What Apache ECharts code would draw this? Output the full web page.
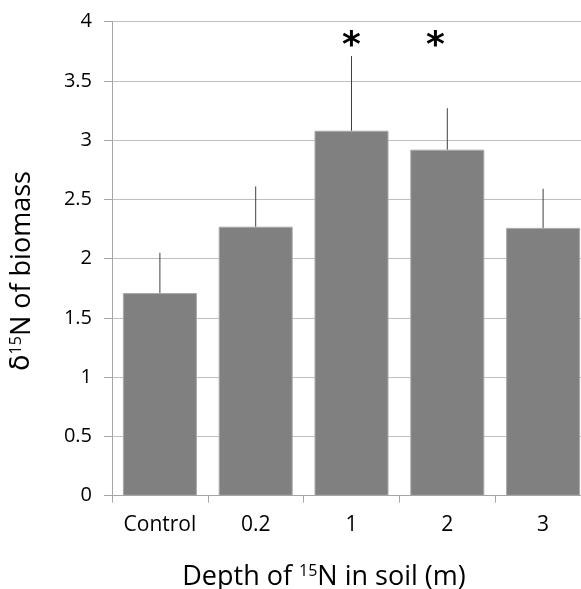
<!DOCTYPE html>
<html>
<head>
<meta charset="utf-8">
<script src="https://cdn.jsdelivr.net/npm/echarts@6/dist/echarts.min.js"></script>
<style>
  html, body { margin: 0; padding: 0; background: #fff; overflow: hidden; }
  /* the original plot runs a little past the right edge of the picture */
  #chart { width: 591px; height: 589px; }
</style>
</head>
<body>
<div id="chart"></div>
<script>
var categories = ['Control', '0.2', '1', '2', '3'];
var means = [1.71, 2.27, 3.08, 2.92, 2.26];
var errTops = [2.05, 2.61, 3.71, 3.27, 2.59];
var stars = ['', '', '*', '*', ''];
var starLevel = 3.87;

var font = '"Open Sans", "Noto Sans", sans-serif';
var myChart = echarts.init(document.getElementById('chart'));

var option = {
  animation: false,
  grid: { left: 112, top: 21.7, right: 0, bottom: 93.3 },
  graphic: [{
    type: 'text',
    x: 22, y: 271,
    rotation: Math.PI / 2,
    style: {
      text: '{d|δ}{s|15}{a|N of biomass}',
      align: 'center',
      verticalAlign: 'middle',
      fill: '#000',
      rich: {
        a: { fontSize: 27, fontFamily: font, fill: '#000' },
        d: { fontSize: 27, fontFamily: '"DejaVu Sans", sans-serif', fill: '#000' },
        s: { fontSize: 16, fontFamily: font, fill: '#000', verticalAlign: 'top', padding: [0, 0, 11, 0] }
      }
    }
  }, {
    type: 'text',
    x: 324, y: 577,
    style: {
      text: '{a|Depth of }{s|15}{a|N in soil (m)}',
      align: 'center',
      verticalAlign: 'middle',
      fill: '#000',
      rich: {
        a: { fontSize: 27, fontFamily: font, fill: '#000' },
        s: { fontSize: 16, fontFamily: font, fill: '#000', verticalAlign: 'top', padding: [0, 0, 11, 0] }
      }
    }
  }],
  xAxis: {
    type: 'category',
    data: categories,
    axisLine: { lineStyle: { color: '#a6a6a6', width: 1 } },
    axisTick: { show: true, length: 7, lineStyle: { color: '#a6a6a6' } },
    axisLabel: { interval: 0, color: '#000', fontSize: 21, fontFamily: font, margin: 19 }
  },
  yAxis: {
    type: 'value',
    min: 0, max: 4, interval: 0.5,
    axisLine: { show: true, lineStyle: { color: '#a6a6a6', width: 1 } },
    axisTick: { show: true, length: 8, lineStyle: { color: '#a6a6a6' } },
    axisLabel: { color: '#000', fontSize: 20, fontFamily: font, margin: 20 },
    splitLine: { lineStyle: { color: '#bfbfbf', width: 1 } }
  },
  series: [{
    type: 'bar',
    data: means,
    barWidth: 74,
    itemStyle: { color: '#808080', borderColor: '#a8a8a8', borderWidth: 1 },
    z: 2
  }, {
    type: 'custom',
    data: categories.map(function (c, i) { return [i, means[i], errTops[i]]; }),
    renderItem: function (params, api) {
      var lo = api.coord([api.value(0), api.value(1)]);
      var hi = api.coord([api.value(0), api.value(2)]);
      return {
        type: 'line',
        shape: { x1: lo[0], y1: lo[1], x2: hi[0], y2: hi[1] },
        style: { stroke: '#404040', lineWidth: 1 }
      };
    },
    z: 3
  }, {
    type: 'custom',
    data: categories.map(function (c, i) { return [i, starLevel]; }),
    renderItem: function (params, api) {
      var s = stars[params.dataIndex];
      if (!s) return null;
      var p = api.coord([api.value(0), api.value(1)]);
      // the second star sits a little left of its bar in the original
      var dx = params.dataIndex === 3 ? -12 : 0;
      return {
        type: 'text',
        x: p[0] + dx, y: p[1] + 10,
        style: {
          text: s,
          align: 'center',
          verticalAlign: 'middle',
          fill: '#000',
          fontSize: 36,
          fontWeight: 'bold',
          fontFamily: '"DejaVu Sans", sans-serif'
        }
      };
    },
    z: 4
  }]
};

myChart.setOption(option);
</script>
</body>
</html>
